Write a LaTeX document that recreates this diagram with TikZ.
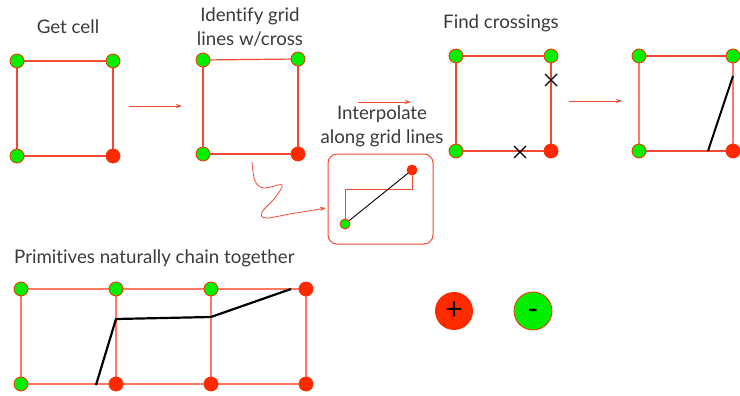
\documentclass[tikz,border=0pt]{standalone}
\usepackage{fontspec}
\setmainfont{Lato}[Ligatures=NoCommon]
\usetikzlibrary{arrows.meta}
\definecolor{gline}{HTML}{F24A32}
\definecolor{lline}{HTML}{FF7A66}
\definecolor{rdot}{HTML}{FF2A00}
\definecolor{gdotc}{HTML}{00EE00}
\definecolor{txt}{HTML}{3A3A3A}
\tikzset{
  gdot/.style={circle,fill=gdotc,draw=rdot,line width=0.8pt,inner sep=0pt,minimum size=14pt},
  rdotst/.style={circle,fill=rdot,draw=rdot,line width=0.8pt,inner sep=0pt,minimum size=14pt},
  sgdot/.style={gdot,minimum size=10pt},
  srdot/.style={rdotst,minimum size=10pt},
  gridln/.style={draw=gline,line width=1.2pt},
  lgridln/.style={draw=lline,line width=1.2pt},
  flowarr/.style={draw=gline,line width=0.8pt,-{Stealth[length=6pt,width=4pt]}},
  lbl/.style={text=txt,font=\fontsize{18.7}{24}\selectfont,align=center,inner sep=0pt},
  chain/.style={draw=black,line width=2.2pt},
  crossmk/.style={draw=black,line width=1.2pt},
}
\begin{document}
\begin{tikzpicture}[x=1pt,y=-1pt]
\useasboundingbox (0,0) rectangle (740,396);
\clip (0,0) rectangle (740,396);
% Titles
\node[lbl] (t1) at (68,27) {Get cell};
\node[lbl] (t2) at (250,27) {Identify grid\\lines w/cross};
\node[lbl] (t3) at (501,23) {Find crossings};
\node[lbl] (t4) at (382,126) {Interpolate\\along grid lines};
\node[lbl,anchor=west] (t5) at (14,258) {Primitives naturally chain together};

% Cell 1
\coordinate (a1) at (17,61); \coordinate (a2) at (113,61);
\coordinate (a3) at (17,156); \coordinate (a4) at (113,156);
\draw[gridln] (a1) -- (a2) -- (a4) -- (a3) -- cycle;
\node[gdot] (A1) at (a1) {}; \node[gdot] (A2) at (a2) {};
\node[gdot] (A3) at (a3) {}; \node[rdotst] (A4) at (a4) {};

% Cell 2
\coordinate (b1) at (203,60); \coordinate (b2) at (298,59);
\coordinate (b3) at (203,154); \coordinate (b4) at (298,154);
\draw[gridln] (b1) -- (b2);
\draw[gridln] (b1) -- (b3);
\draw[gridln,line width=1.8pt] (b2) -- (b4);
\draw[gridln,line width=1.8pt] (b3) -- (b4);
\node[gdot] (B1) at (b1) {}; \node[gdot] (B2) at (b2) {};
\node[gdot] (B3) at (b3) {}; \node[rdotst] (B4) at (b4) {};

% Cell 3
\coordinate (c1) at (456,56); \coordinate (c2) at (551,56);
\coordinate (c3) at (456,151); \coordinate (c4) at (551,151);
\draw[gridln] (c1) -- (c2) -- (c4);
\draw[gridln] (c1) -- (c3);
\draw[gridln] (c3) -- (c4);
\node[gdot] (C1) at (c1) {}; \node[gdot] (C2) at (c2) {};
\node[gdot] (C3) at (c3) {}; \node[rdotst] (C4) at (c4) {};
\coordinate (x1) at (551,80); \coordinate (x2) at (520,152);
\draw[crossmk] ([shift={(-6,-6)}]x1) -- ([shift={(6,6)}]x1);
\draw[crossmk] ([shift={(-6,6)}]x1) -- ([shift={(6,-6)}]x1);
\draw[crossmk] ([shift={(-6,-6)}]x2) -- ([shift={(6,6)}]x2);
\draw[crossmk] ([shift={(-6,6)}]x2) -- ([shift={(6,-6)}]x2);

% Cell 4
\coordinate (d1) at (639,56); \coordinate (d2) at (733,56);
\coordinate (d3) at (639,151); \coordinate (d4) at (733,151);
\draw[lgridln] (d1) -- (d2) -- (d4) -- (d3) -- cycle;
\draw[gridln] (d1) -- (d2); \draw[gridln] (d3) -- (d4);
\coordinate (e1) at (708,151); \coordinate (e2) at (733,76);
\draw[chain,line width=2pt] (e1) -- (e2);
\node[gdot] (D1) at (d1) {}; \node[gdot] (D2) at (d2) {};
\node[gdot] (D3) at (d3) {}; \node[rdotst] (D4) at (d4) {};

% Flow arrows
\coordinate (f1s) at (129,106); \coordinate (f1e) at (182,106);
\draw[flowarr] (f1s) -- (f1e);
\coordinate (f2s) at (358,102); \coordinate (f2e) at (411,102);
\draw[flowarr] (f2s) -- (f2e);
\coordinate (f3s) at (569,101); \coordinate (f3e) at (622,101);
\draw[flowarr] (f3s) -- (f3e);

% Interpolation box
\node[draw=gline,line width=1pt,rounded corners=9pt,minimum width=105pt,minimum height=90pt,inner sep=0pt] (box) at (380.5,199) {};
\coordinate (i1) at (345,224); \coordinate (i2) at (412,170);
\coordinate (i3) at (345,189); \coordinate (i4) at (412,189);
\draw[gridln,line width=1pt] (i1) -- (i3) -- (i4) -- (i2);
\draw[black,line width=0.9pt] (i1) -- (i2);
\node[sgdot] (I1) at (i1) {}; \node[srdot] (I2) at (i2) {};

% Squiggle arrow
\coordinate (sq) at (252,162);
\draw[flowarr] plot[smooth,tension=0.6] coordinates {(sq) (255,181) (264,188) (282,185) (274,199) (262,212) (266,218) (290,214) (326,208)};

% Bottom chain
\coordinate (g1) at (21,289); \coordinate (g2) at (116,289); \coordinate (g3) at (211,289); \coordinate (g4) at (306,289);
\coordinate (h1) at (21,384); \coordinate (h2) at (116,384); \coordinate (h3) at (211,384); \coordinate (h4) at (306,384);
\draw[lgridln] (g1) -- (g4);
\draw[lgridln] (h1) -- (h4);
\draw[lgridln] (g1) -- (h1);
\draw[lgridln] (g2) -- (h2);
\draw[lgridln] (g3) -- (h3);
\draw[lgridln] (g4) -- (h4);
\coordinate (k1) at (96,385); \coordinate (k2) at (116,319); \coordinate (k3) at (211,317); \coordinate (k4) at (291,289);
\draw[chain,line join=round] (k1) -- (k2) -- (k3) -- (k4);
\node[gdot] (G1) at (g1) {}; \node[gdot] (G2) at (g2) {}; \node[gdot] (G3) at (g3) {}; \node[rdotst] (G4) at (g4) {};
\node[gdot] (H1) at (h1) {}; \node[rdotst] (H2) at (h2) {}; \node[rdotst] (H3) at (h3) {}; \node[rdotst] (H4) at (h4) {};

% Legend
\node[circle,fill=rdot,inner sep=0pt,minimum size=38pt,font=\fontsize{30}{30}\selectfont] (plus) at (454,311) {+};
\node[circle,fill=gdotc,draw=rdot,line width=0.8pt,inner sep=0pt,minimum size=38pt] (minus) at (533,311) {};
\node[inner sep=0pt,font=\fontsize{30}{30}\selectfont] (minustxt) at (533,314) {-};
\end{tikzpicture}
\end{document}
